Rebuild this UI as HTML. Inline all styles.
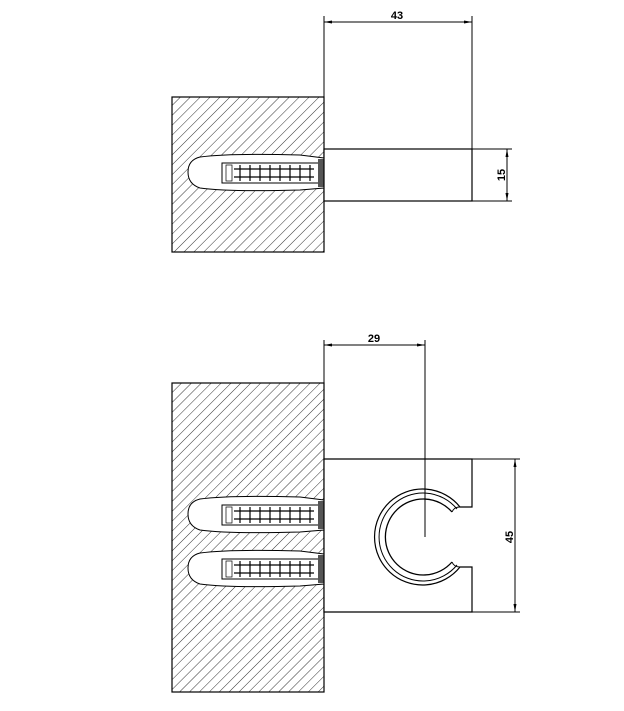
<!DOCTYPE html>
<html><head><style>html,body{margin:0;padding:0;background:#fff}svg{display:block}</style></head>
<body>
<svg width="624" height="711" viewBox="0 0 624 711" xmlns="http://www.w3.org/2000/svg" font-family="Liberation Sans, sans-serif">
<defs>
<pattern id="h" patternUnits="userSpaceOnUse" width="7" height="7" patternTransform="rotate(45)">
<line x1="0" y1="0" x2="0" y2="7" stroke="#000" stroke-width="0.8"/>
</pattern>
<g id="anc">
<path d="M324,0 L300,-3 Q230,-5 200,-1 Q188,2 188,14 Q188,26 200,30 Q230,34 300,32 L324,30 Z" fill="#fff" stroke="#000" stroke-width="1"/>
<rect x="222" y="5" width="98" height="20" fill="#fff" stroke="#000" stroke-width="1"/>
<rect x="226" y="7" width="6" height="16" fill="none" stroke="#000" stroke-width="0.7"/>
<g stroke="#000" stroke-width="1.2" fill="none">
<path d="M240,7 v16 M250,7 v16 M260,7 v16 M270,7 v16 M280,7 v16 M290,7 v16 M300,7 v16 M310,7 v16"/>
<path d="M234,11 h80 M234,19 h80"/>
</g>
<rect x="318" y="1" width="6" height="28" fill="#555"/>
</g>
</defs>

<rect x="172" y="97" width="152" height="155" fill="url(#h)" stroke="#000" stroke-width="1.2"/>
<use href="#anc" y="158"/>
<rect x="324" y="149" width="148" height="52" fill="#fff" stroke="#000" stroke-width="1.2"/>
<g stroke="#000" stroke-width="1" fill="none">
<line x1="324" y1="16" x2="324" y2="149"/>
<line x1="472" y1="16" x2="472" y2="149"/>
<line x1="324" y1="22" x2="472" y2="22"/>
<line x1="472" y1="149" x2="512" y2="149"/>
<line x1="472" y1="201" x2="512" y2="201"/>
<line x1="507" y1="149" x2="507" y2="201"/>
</g>
<path d="M324,22 l8,-1.5 v3z M472,22 l-8,-1.5 v3z M507,149 l-1.5,8 h3z M507,201 l-1.5,-8 h3z" fill="#000"/>
<text x="397" y="19" font-size="11" font-weight="bold" text-anchor="middle">43</text>
<text transform="translate(505,175) rotate(-90)" font-size="11" font-weight="bold" text-anchor="middle">15</text>

<rect x="172" y="383" width="152" height="309" fill="url(#h)" stroke="#000" stroke-width="1.2"/>
<use href="#anc" y="500"/>
<use href="#anc" y="554"/>
<path d="M324,459 H472 V507 H460 A48,48 0 1 0 460,567 H472 V612 H324 Z" fill="#fff" stroke="#000" stroke-width="1.2"/>
<path d="M457,509 A44,44 0 1 0 457,565" fill="none" stroke="#000" stroke-width="1"/>
<path d="M452,512 A38,38 0 1 0 452,562" fill="none" stroke="#000" stroke-width="1.3"/>
<path d="M460,507 Q454,507 452,512 M460,567 Q454,567 452,562" fill="none" stroke="#000" stroke-width="1"/>
<g stroke="#000" stroke-width="1" fill="none">
<line x1="324" y1="340" x2="324" y2="459"/>
<line x1="425" y1="340" x2="425" y2="537"/>
<line x1="324" y1="345" x2="425" y2="345"/>
<line x1="472" y1="459" x2="520" y2="459"/>
<line x1="472" y1="612" x2="520" y2="612"/>
<line x1="515" y1="459" x2="515" y2="612"/>
</g>
<path d="M324,345 l8,-1.5 v3z M425,345 l-8,-1.5 v3z M515,459 l-1.5,8 h3z M515,612 l-1.5,-8 h3z" fill="#000"/>
<text x="374" y="342" font-size="11" font-weight="bold" text-anchor="middle">29</text>
<text transform="translate(513,537) rotate(-90)" font-size="11" font-weight="bold" text-anchor="middle">45</text>
</svg>
</body></html>
